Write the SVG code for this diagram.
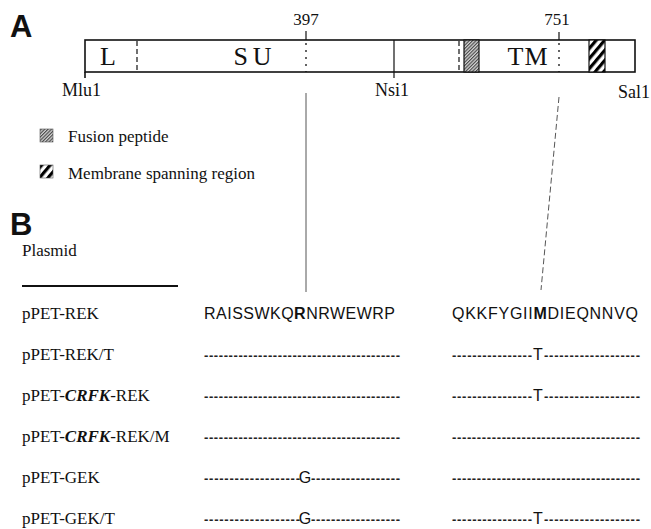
<svg xmlns="http://www.w3.org/2000/svg" width="651" height="529" viewBox="0 0 651 529">
  <defs>
    <!-- fine hatching for the fusion peptide -->
    <pattern id="fine-hatch" patternUnits="userSpaceOnUse" width="2.4" height="4" patternTransform="rotate(45)">
      <rect width="2.4" height="4" fill="#d6d6d6"/>
      <line x1="0.6" y1="0" x2="0.6" y2="4" stroke="#333" stroke-width="1"/>
    </pattern>
    <!-- bold stripes for the membrane spanning region -->
    <pattern id="bold-stripe" patternUnits="userSpaceOnUse" width="6.5" height="10" patternTransform="rotate(40)">
      <rect width="6.5" height="10" fill="#fff"/>
      <line x1="1.6" y1="0" x2="1.6" y2="10" stroke="#000" stroke-width="3.2"/>
    </pattern>
    <style>
      .serif { font-family: "Liberation Serif", "Times New Roman", serif; fill: #111; }
      .sans { font-family: "Liberation Sans", Arial, sans-serif; fill: #111; }
      .lbl { font-size: 17px; }
      .site { font-size: 18px; }
      .dom { font-size: 26px; }
      .seq { font-size: 16px; }
      .dash { font-size: 13px; font-weight: bold; fill: #222; }
      .panel { font-size: 31px; font-weight: bold; }
      .edge { stroke: #111; stroke-width: 1.6; }
      .thin { stroke: #111; stroke-width: 1.2; }
      .dashed { stroke: #111; stroke-width: 1.2; stroke-dasharray: 5 3; }
      .dotted { stroke: #111; stroke-width: 1.3; stroke-dasharray: 2 5; }
      .conn { stroke: #555; stroke-width: 1; fill: none; }
      .conn-dash { stroke: #555; stroke-width: 1; fill: none; stroke-dasharray: 6 3; }
    </style>
  </defs>
  <rect width="651" height="529" fill="#fff"/>

  <!-- Panel A: env gene map -->
  <text class="sans panel" x="10" y="37">A</text>

  <g id="env-map">
    <rect x="85" y="40" width="550" height="32" fill="#fff" class="edge"/>
    <line class="edge" x1="85" y1="72" x2="85" y2="78"/>
    <line class="thin" x1="394" y1="40" x2="394" y2="78"/>
    <line class="dashed" x1="137" y1="41" x2="137" y2="72"/>
    <line class="dashed" x1="459" y1="41" x2="459" y2="72"/>
    <line class="thin" x1="306" y1="31" x2="306" y2="40"/>
    <line class="dotted" x1="306" y1="43" x2="306" y2="72"/>
    <line class="thin" x1="559" y1="32" x2="559" y2="40"/>
    <line class="dotted" x1="559" y1="43" x2="559" y2="72"/>
    <rect x="464" y="40" width="15" height="32" fill="url(#fine-hatch)" class="thin"/>
    <rect x="589" y="40" width="16" height="32" fill="url(#bold-stripe)" class="thin"/>
    <text class="serif dom" x="100" y="65">L</text>
    <text class="serif dom" x="255" y="65" text-anchor="middle" letter-spacing="5">SU</text>
    <text class="serif dom" x="528" y="65" text-anchor="middle" letter-spacing="1">TM</text>
  </g>

  <g id="positions">
    <text class="serif lbl" x="306" y="25" text-anchor="middle">397</text>
    <text class="serif lbl" x="557" y="25" text-anchor="middle">751</text>
  </g>

  <g id="sites">
    <text class="serif site" x="62" y="96">Mlu1</text>
    <text class="serif site" x="375" y="96">Nsi1</text>
    <text class="serif site" x="618" y="98">Sal1</text>
  </g>

  <g id="legend">
    <rect x="40" y="129" width="13" height="13" fill="url(#fine-hatch)" stroke="#555" stroke-width="0.6"/>
    <text class="serif lbl" x="68" y="142">Fusion peptide</text>
    <rect x="40" y="165" width="13" height="13" fill="url(#bold-stripe)" stroke="#555" stroke-width="0.6"/>
    <text class="serif lbl" x="68" y="179">Membrane spanning region</text>
  </g>

  <!-- guides from the map positions down to the alignment -->
  <g id="connectors">
    <line class="conn" x1="306" y1="93" x2="306" y2="292"/>
    <line class="conn-dash" x1="559" y1="97" x2="541" y2="290"/>
  </g>

  <!-- Panel B: plasmid alignment -->
  <text class="sans panel" x="10" y="235">B</text>

  <g id="plasmid-header">
    <text class="serif lbl" x="22" y="256">Plasmid</text>
    <line x1="22" y1="286" x2="178" y2="286" stroke="#111" stroke-width="2"/>
  </g>

  <g id="row-pPET-REK">
    <text class="serif lbl" x="22" y="319">pPET-REK</text>
    <text class="sans seq" x="204" y="319" textLength="191" lengthAdjust="spacing">RAISSWKQ<tspan font-weight="bold">R</tspan>NRWEWRP</text>
    <text class="sans seq" x="452" y="319" textLength="186" lengthAdjust="spacing">QKKFYGII<tspan font-weight="bold">M</tspan>DIEQNNVQ</text>
  </g>

  <g id="row-pPET-REK-T">
    <text class="serif lbl" x="22" y="360">pPET-REK/T</text>
    <text class="sans dash" x="204" y="360" textLength="196" lengthAdjust="spacing">----------------------------------------</text>
    <text class="sans dash" x="452" y="360" textLength="80" lengthAdjust="spacing">----------------</text>
    <text class="sans seq" x="538" y="360" text-anchor="middle">T</text>
    <text class="sans dash" x="544" y="360" textLength="96" lengthAdjust="spacing">-------------------</text>
  </g>

  <g id="row-pPET-CRFK-REK">
    <text class="serif lbl" x="22" y="401">pPET-<tspan font-style="italic" font-weight="bold">CRFK</tspan>-REK</text>
    <text class="sans dash" x="204" y="401" textLength="196" lengthAdjust="spacing">----------------------------------------</text>
    <text class="sans dash" x="452" y="401" textLength="80" lengthAdjust="spacing">----------------</text>
    <text class="sans seq" x="538" y="401" text-anchor="middle">T</text>
    <text class="sans dash" x="544" y="401" textLength="96" lengthAdjust="spacing">-------------------</text>
  </g>

  <g id="row-pPET-CRFK-REK-M">
    <text class="serif lbl" x="22" y="442">pPET-<tspan font-style="italic" font-weight="bold">CRFK</tspan>-REK/M</text>
    <text class="sans dash" x="204" y="442" textLength="196" lengthAdjust="spacing">----------------------------------------</text>
    <text class="sans dash" x="452" y="442" textLength="188" lengthAdjust="spacing">--------------------------------------</text>
  </g>

  <g id="row-pPET-GEK">
    <text class="serif lbl" x="22" y="483">pPET-GEK</text>
    <text class="sans dash" x="204" y="483" textLength="96" lengthAdjust="spacing">-------------------</text>
    <text class="sans seq" x="305" y="483" text-anchor="middle">G</text>
    <text class="sans dash" x="311" y="483" textLength="89" lengthAdjust="spacing">------------------</text>
    <text class="sans dash" x="452" y="483" textLength="188" lengthAdjust="spacing">--------------------------------------</text>
  </g>

  <g id="row-pPET-GEK-T">
    <text class="serif lbl" x="22" y="524">pPET-GEK/T</text>
    <text class="sans dash" x="204" y="524" textLength="96" lengthAdjust="spacing">-------------------</text>
    <text class="sans seq" x="305" y="524" text-anchor="middle">G</text>
    <text class="sans dash" x="311" y="524" textLength="89" lengthAdjust="spacing">------------------</text>
    <text class="sans dash" x="452" y="524" textLength="80" lengthAdjust="spacing">----------------</text>
    <text class="sans seq" x="538" y="524" text-anchor="middle">T</text>
    <text class="sans dash" x="544" y="524" textLength="96" lengthAdjust="spacing">-------------------</text>
  </g>
</svg>
